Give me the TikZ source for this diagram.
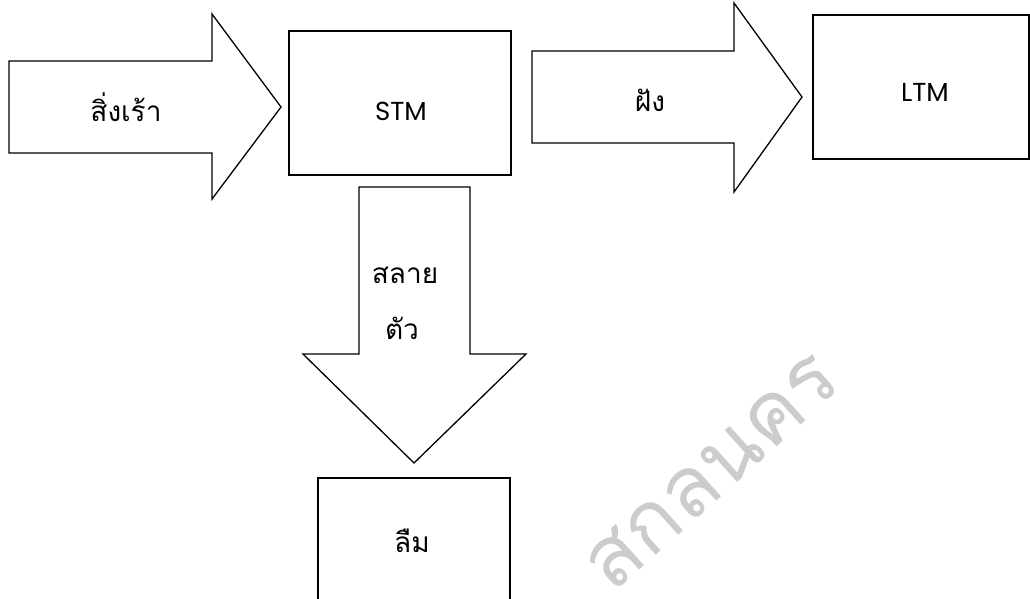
\documentclass[tikz,border=0pt]{standalone}
\usepackage{fontspec}
\setmainfont{Poppins}
\newfontfamily\thaifont[Script=Thai]{Loma}
\tikzset{
  shp/.style={draw=black, line width=1.3pt, fill=white, line join=miter},
  lbl/.style={font=\fontsize{26}{30}\selectfont, inner sep=0pt, anchor=center},
  thl/.style={font=\thaifont\fontsize{28}{32}\selectfont, inner sep=0pt, anchor=center},
}
\begin{document}
\begin{tikzpicture}[x=1pt,y=-1pt]
\useasboundingbox (0,0) rectangle (1030,598);
% watermark
\node[font=\thaifont\fontsize{84}{92}\selectfont, text=black!20, rotate=42, inner sep=0pt] (wm) at (712,472) {สกลนคร};
% arrow 1
\draw[shp] (9,61) -- (212,61) -- (212,14) -- (281,107) -- (212,199) -- (212,153) -- (9,153) -- cycle;
\node[thl] (t1) at (126,107) {สิ่งเร้า};
% STM
\draw[shp] (289,31) rectangle (511,175);
\node[lbl] (stm) at (401,111) {STM};
% arrow 2
\draw[shp] (532,51) -- (734,51) -- (734,3) -- (802,97) -- (734,192) -- (734,143) -- (532,143) -- cycle;
\node[thl] (t2) at (650,100) {ฝัง};
% LTM
\draw[shp] (813,15) rectangle (1029,159);
\node[lbl] (ltm) at (925,92) {LTM};
% down arrow
\draw[shp] (359,187) -- (470,187) -- (470,354) -- (526,354) -- (414,463) -- (303,354) -- (359,354) -- cycle;
\node[thl] (t3) at (405,275) {สลาย};
\node[thl] (t4) at (402,328) {ตัว};
% forget box
\draw[shp] (318,478) rectangle (510,600);
\node[thl] (t5) at (412,541) {ลืม};
\end{tikzpicture}
\end{document}
